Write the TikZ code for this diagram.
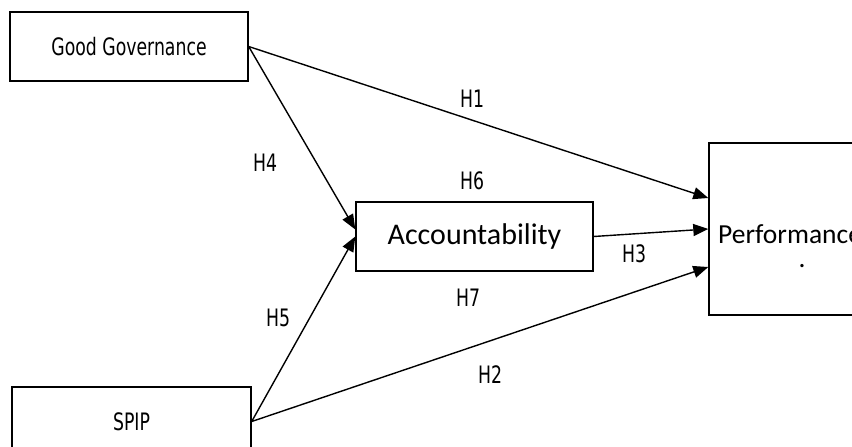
\documentclass[tikz,border=0pt]{standalone}
\usepackage{fontspec}
\setmainfont{Carlito}
\newfontfamily\hypfont[FakeStretch=0.72]{DejaVu Sans}
\usetikzlibrary{positioning, arrows.meta, calc}

\begin{document}
\begin{tikzpicture}[
  x=1pt, y=-1pt,
  every node/.style = {inner sep=0pt},
  box/.style    = {draw, line width=1.4pt, minimum height=69pt, align=center},
  varbox/.style = {box, minimum width=238pt,
                   font=\hypfont\fontsize{24}{28}\selectfont},
  midbox/.style = {box, minimum width=237pt,
                   font=\fontsize{30}{36}\selectfont},
  hyp/.style    = {font=\hypfont\fontsize{24}{28}\selectfont},
  arr/.style    = {-{Triangle[length=15pt, width=12pt]}, line width=1.4pt}
]
\clip (0,0) rectangle (852,447);

\node[varbox] (gg)   at (129,46.5)    {Good Governance};
\node[varbox, minimum width=239pt] (spip) at (131.5,421.5) {SPIP};
\node[midbox] (acc)  at (474.5,236.5) {Accountability};
\node[box, minimum width=170pt, minimum height=172pt] (perf) at (794,229) {};
\node[anchor=base west, font=\fontsize{27.5}{33}\selectfont]
  (perftxt) at (718,243) {Performance};
\node[font=\fontsize{27.5}{33}\selectfont] (perfdot) at (802,266) {.};

\draw[arr] (gg.east)   -- ([yshift=31pt]perf.west);
\draw[arr] (gg.east)   -- ([yshift=7pt]acc.west);
\draw[arr] (spip.east) -- (acc.west);
\draw[arr] (spip.east) -- ([yshift=-38pt]perf.west);
\draw[arr] (acc.east)  -- (perf.west);

\node[hyp] (h1) at (472,99)  {H1};
\node[hyp] (h2) at (490,375) {H2};
\node[hyp] (h3) at (634,254) {H3};
\node[hyp] (h4) at (265,163) {H4};
\node[hyp] (h5) at (278,318) {H5};
\node[hyp] (h6) at (472,181) {H6};
\node[hyp] (h7) at (468,298) {H7};

\end{tikzpicture}
\end{document}
